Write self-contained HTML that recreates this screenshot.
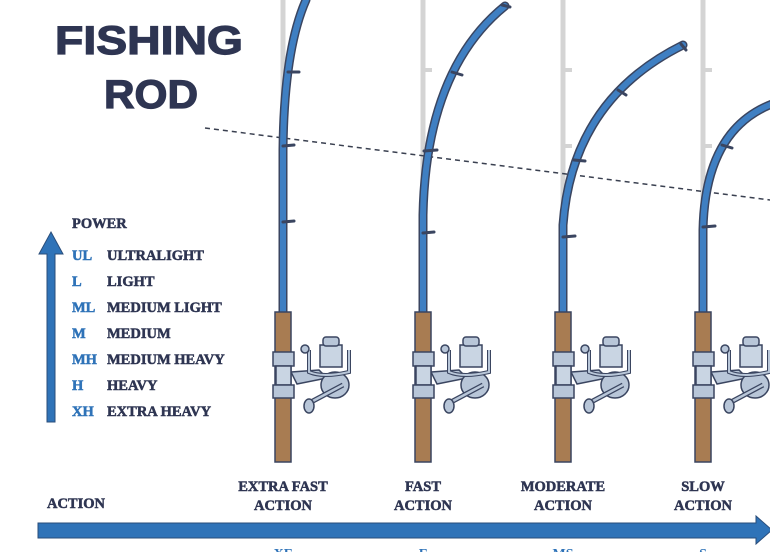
<!DOCTYPE html>
<html><head><meta charset="utf-8"><style>
html,body{margin:0;padding:0;background:#fff;}
svg{display:block;}
text{font-family:"Liberation Serif",serif;font-weight:bold;}
</style></head><body>
<svg width="770" height="552" viewBox="0 0 770 552" xmlns="http://www.w3.org/2000/svg">
<defs>
<g id="reel">
  <path d="M8,372 L36,370 L44,378 L14,384 Z" fill="#b8c6d8" stroke="#3a4560" stroke-width="1.5"/>
  <rect x="-10" y="352" width="21" height="14" fill="#b8c6d8" stroke="#3a4560" stroke-width="1.5"/>
  <rect x="-7" y="366" width="15" height="19" fill="#c9d5e3" stroke="#3a4560" stroke-width="1.5"/>
  <rect x="-10" y="385" width="21" height="13" fill="#b8c6d8" stroke="#3a4560" stroke-width="1.5"/>
  <ellipse cx="52" cy="385" rx="14" ry="13" fill="#b8c6d8" stroke="#3a4560" stroke-width="1.5"/>
  <path d="M26,350 L26,372 Q40,378 66,372 L66,350" fill="none" stroke="#3a4560" stroke-width="4"/>
  <path d="M26,350 L26,372 Q40,378 66,372 L66,350" fill="none" stroke="#b8c6d8" stroke-width="2"/>
  <rect x="37" y="345" width="22" height="22" fill="#c9d5e3" stroke="#3a4560" stroke-width="1.5"/>
  <rect x="40" y="337" width="16" height="9" rx="3" fill="#b8c6d8" stroke="#3a4560" stroke-width="1.5"/>
  <circle cx="22" cy="349" r="4" fill="#b8c6d8" stroke="#3a4560" stroke-width="1.5"/>
  <line x1="60" y1="385" x2="28" y2="402" stroke="#3a4560" stroke-width="5"/>
  <line x1="60" y1="385" x2="28" y2="402" stroke="#b8c6d8" stroke-width="2.5"/>
  <ellipse cx="26" cy="406" rx="5" ry="7" fill="#b8c6d8" stroke="#3a4560" stroke-width="1.5"/>
</g>
</defs>

<g stroke="#d4d4d4" stroke-width="5" fill="none">
  <line x1="283" y1="0" x2="283" y2="300"/>
  <line x1="423" y1="0" x2="423" y2="300"/>
  <line x1="563" y1="0" x2="563" y2="300"/>
  <line x1="703" y1="0" x2="703" y2="300"/>
</g>
<g stroke="#d4d4d4" stroke-width="4">
  <line x1="423" y1="70" x2="432" y2="70"/><line x1="563" y1="70" x2="572" y2="70"/>
  <line x1="563" y1="146" x2="572" y2="146"/><line x1="703" y1="70" x2="712" y2="70"/>
  <line x1="703" y1="146" x2="712" y2="146"/><line x1="423" y1="148" x2="432" y2="148"/>
</g>

<line x1="205" y1="128" x2="770" y2="200" stroke="#3a4050" stroke-width="1.5" stroke-dasharray="5,4"/>

<g fill="none" stroke-linecap="round">
  <g stroke="#3a4560" stroke-width="9">
    <path d="M283,320 L283,150 Q284,50 306,0"/>
    <path d="M423,320 L423,215 Q426,70 505,6"/>
    <path d="M563,320 L563,225 Q572,100 683,45"/>
    <path d="M703,320 L703,230 Q705,130 772,104"/>
  </g>
  <g stroke="#3f7fc2" stroke-width="6">
    <path d="M283,320 L283,150 Q284,50 306,0"/>
    <path d="M423,320 L423,215 Q426,70 505,6"/>
    <path d="M563,320 L563,225 Q572,100 683,45"/>
    <path d="M703,320 L703,230 Q705,130 772,104"/>
  </g>
</g>
<g stroke="#3a4560" stroke-width="3" stroke-linecap="round">
  <line x1="283" y1="222" x2="294" y2="221"/><line x1="283" y1="146" x2="294" y2="145"/><line x1="288" y1="72" x2="299" y2="72"/>
  <line x1="423" y1="233" x2="434" y2="232"/><line x1="424" y1="151" x2="437" y2="150"/><line x1="452" y1="72" x2="462" y2="75"/><line x1="502" y1="5" x2="510" y2="7"/>
  <line x1="563" y1="237" x2="575" y2="236"/><line x1="574" y1="160" x2="585" y2="161"/><line x1="618" y1="90" x2="626" y2="95"/><line x1="681" y1="44" x2="686" y2="50"/>
  <line x1="703" y1="227" x2="715" y2="226"/><line x1="722" y1="145" x2="732" y2="148"/>
</g>

<g fill="#a87c52" stroke="#3a4560" stroke-width="1.5">
  <rect x="275" y="312" width="16" height="150"/>
  <rect x="415" y="312" width="16" height="150"/>
  <rect x="555" y="312" width="16" height="150"/>
  <rect x="695" y="312" width="16" height="150"/>
</g>
<use href="#reel" x="283"/>
<use href="#reel" x="423"/>
<use href="#reel" x="563"/>
<use href="#reel" x="703"/>

<g fill="#2e3552" stroke="#2e3552" stroke-width="1.2" style="font-family:'Liberation Sans',sans-serif;font-weight:bold" font-size="40">
<text x="55" y="54" textLength="188" lengthAdjust="spacingAndGlyphs" style="font-family:'Liberation Sans',sans-serif">FISHING</text>
<text x="104" y="108" textLength="94" lengthAdjust="spacingAndGlyphs" style="font-family:'Liberation Sans',sans-serif">ROD</text>
</g>

<path d="M47,422 L47,254 L39,254 L51,232 L63,254 L55,254 L55,422 Z" fill="#2f73b8" stroke="#2a4d7a" stroke-width="1"/>
<g font-size="14.5" fill="#2e3552" stroke="#2e3552" stroke-width="0.5">
  <text x="72" y="228">POWER</text>
  <text x="107" y="260">ULTRALIGHT</text>
  <text x="107" y="286">LIGHT</text>
  <text x="107" y="312">MEDIUM LIGHT</text>
  <text x="107" y="338">MEDIUM</text>
  <text x="107" y="364">MEDIUM HEAVY</text>
  <text x="107" y="390">HEAVY</text>
  <text x="107" y="416">EXTRA HEAVY</text>
</g>
<g font-size="14.5" fill="#2f73b8" stroke="#2f73b8" stroke-width="0.5">
  <text x="72" y="260">UL</text><text x="72" y="286">L</text><text x="72" y="312">ML</text>
  <text x="72" y="338">M</text><text x="72" y="364">MH</text><text x="72" y="390">H</text><text x="72" y="416">XH</text>
</g>

<g font-size="14.5" fill="#2e3552" stroke="#2e3552" stroke-width="0.5" text-anchor="middle">
  <text x="76" y="508">ACTION</text>
  <text x="283" y="491">EXTRA FAST</text><text x="283" y="510">ACTION</text>
  <text x="423" y="491">FAST</text><text x="423" y="510">ACTION</text>
  <text x="563" y="491">MODERATE</text><text x="563" y="510">ACTION</text>
  <text x="703" y="491">SLOW</text><text x="703" y="510">ACTION</text>
</g>
<path d="M38,523 L756,523 L756,516 L772,530 L756,544 L756,538 L38,538 Z" fill="#2f73b8" stroke="#2a4d7a" stroke-width="1"/>
<g font-size="14" fill="#2f73b8" text-anchor="middle">
  <text x="283" y="558">XF</text><text x="423" y="558">F</text><text x="563" y="558">MS</text><text x="703" y="558">S</text>
</g>
</svg>
</body></html>
